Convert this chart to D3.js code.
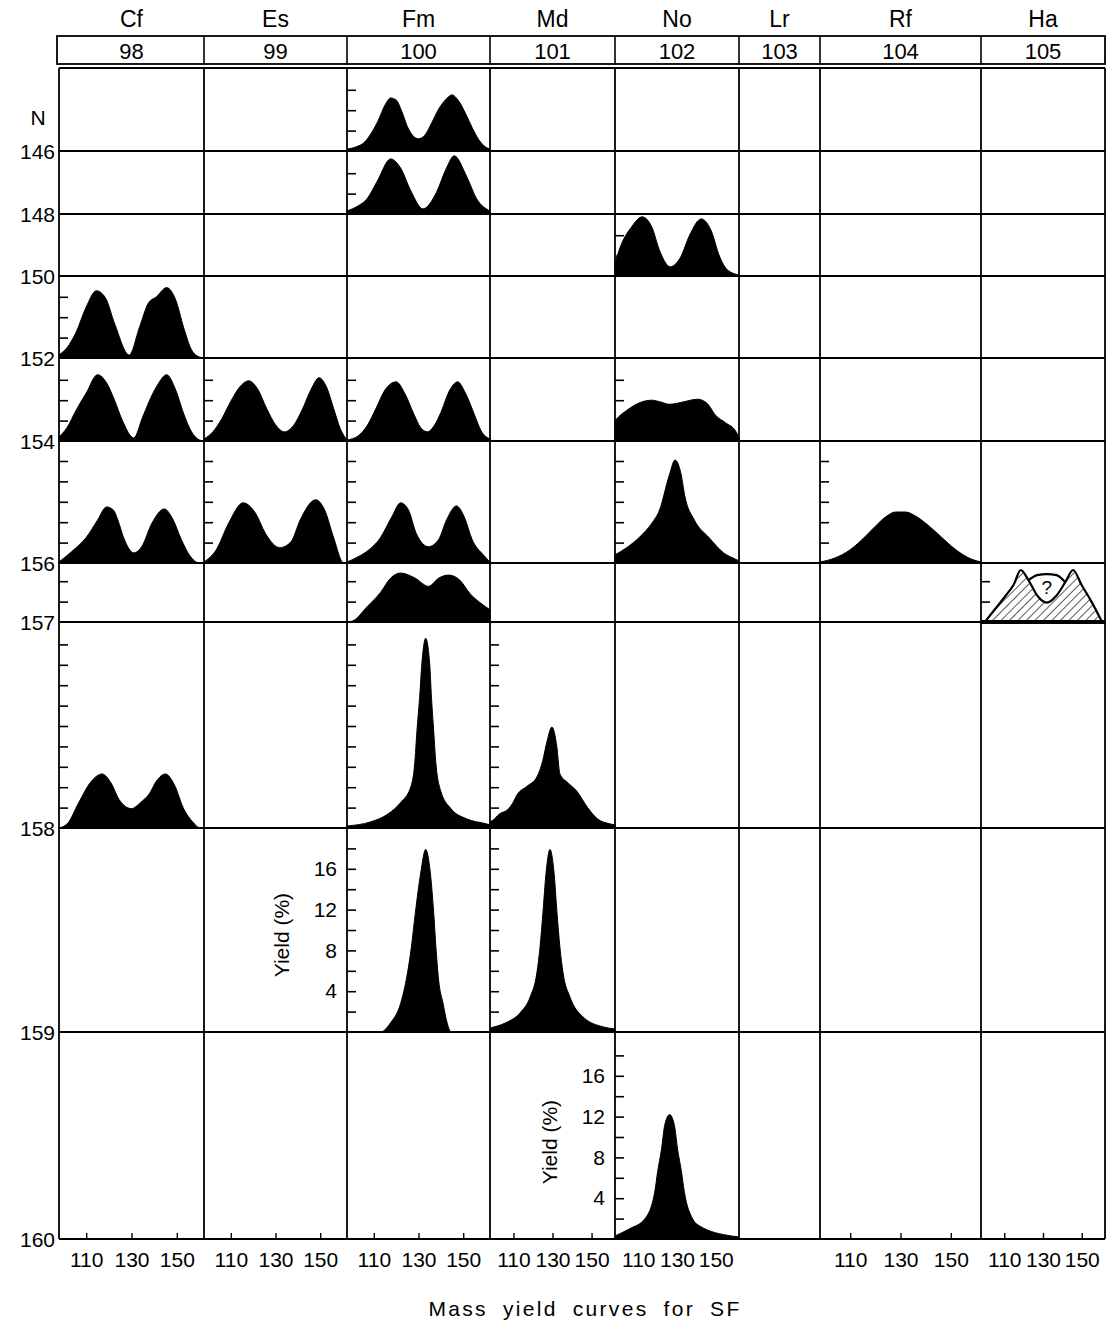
<!DOCTYPE html>
<html>
<head>
<meta charset="utf-8">
<script src="https://cdn.jsdelivr.net/npm/d3@7"></script>
<style>
  body { margin: 0; background: #fff; }
  text { font-family: "Liberation Sans", Arial, Helvetica, sans-serif; fill: #000; }
</style>
</head>
<body>
<svg id="chart" width="1109" height="1327"></svg>
<script>
// ---- data ----
const elements = ["Cf", "Es", "Fm", "Md", "No", "Lr", "Rf", "Ha"];
const atomicNumbers = ["98", "99", "100", "101", "102", "103", "104", "105"];
const neutronRows = [146, 148, 150, 152, 154, 156, 157, 158, 159, 160];
const massTicks = [110, 130, 150];
const massAxisCols = ["Cf", "Es", "Fm", "Md", "No", "Rf", "Ha"];
const yieldLabels = [4, 8, 12, 16];

// mass yield curves: [mass number, yield %]
const fm246 = [[98,0.2],[102,0.4],[106,0.9],[109,1.8],[112,3.0],[115,4.5],[117.5,5.2],[120,5.0],[122.5,3.9],[125,2.4],[127.5,1.5],[130,1.2],[133,1.6],[136,2.8],[139,4.1],[142,5.0],[145,5.5],[148,4.9],[151,3.7],[154,2.3],[157,1.1],[160,0.4],[162,0.2]];
const fm248 = [[98,0.3],[103,0.8],[107,1.5],[111.5,3.2],[117.5,5.4],[122,4.5],[126.5,2.3],[132,0.5],[138,2.1],[142.5,4.5],[146,5.7],[151.5,3.7],[156,1.5],[162,0.3]];
const no252 = [[98,1.3],[101.5,3.2],[106.5,4.8],[112,5.8],[117,4.8],[121,2.5],[126.5,0.9],[132,1.9],[136.5,4.0],[142.5,5.6],[147.5,4.5],[152,1.9],[156,0.6],[162,0.1]];
const cf250 = [[98,0.3],[101.5,1.0],[105.5,2.5],[110,5.0],[114.5,6.6],[118.5,5.9],[122.5,3.4],[129,0.3],[133.5,3.0],[137.5,5.4],[141,6.0],[145.5,6.9],[149.5,5.7],[153,3.0],[156.5,0.8],[160,0.1],[162,0]];
const cf252 = [[98,0.4],[101.5,1.3],[105.5,3.0],[110,4.7],[115,6.5],[119,5.7],[122.5,4.0],[126,2.0],[131,0.3],[135,2.4],[139.5,4.7],[141.5,5.5],[145.5,6.5],[149.5,5.0],[153,2.7],[156.5,0.9],[160,0.1],[162,0]];
const es253 = [[98,0.2],[102,0.9],[106,2.2],[110,3.9],[114,5.3],[118,5.9],[122,5.1],[126,3.2],[130,1.6],[134,0.9],[138,1.5],[142,3.1],[146,5.1],[149.5,6.2],[153,5.2],[156,3.2],[159,1.2],[162,0.1]];
const fm254 = [[98,0.1],[103,0.5],[107,1.5],[111,3.2],[115,5.0],[120,5.8],[124,4.6],[128,2.6],[131,1.3],[134,0.9],[137,1.5],[140,2.8],[144,5.0],[147.5,5.8],[151,4.7],[155,2.6],[158,1.0],[162,0.2]];
const no256 = [[98,2.0],[100,2.4],[104,3.0],[109,3.6],[113,3.9],[117,4.0],[122,3.8],[126,3.6],[132.5,3.8],[137,4.0],[140.5,4.1],[145.5,3.7],[150,2.5],[155,1.8],[160.5,0.9],[162,0.3]];
const cf254 = [[98,0.1],[103.5,1.1],[110,2.5],[115,4.2],[119,5.5],[122,5.2],[124,4.2],[126.5,2.5],[131,1.0],[134.5,1.6],[139,3.9],[144.5,5.3],[148,4.4],[152,2.3],[155.5,0.8],[160,0],[162,0]];
const es255 = [[98,0.1],[103.5,1.3],[109,3.9],[115.5,5.9],[121,4.9],[125.5,2.9],[132,1.5],[137,2.1],[141,4.2],[148,6.2],[152,5.2],[156,2.5],[160.5,0],[162,0]];
const fm256 = [[98,0.1],[102,0.5],[106,1.0],[113,2.5],[118,4.5],[122,5.9],[125.5,5.2],[129,2.9],[134.5,1.6],[139,2.3],[142.5,4.2],[147,5.6],[150.5,4.5],[154,2.3],[159,0.8],[162,0.1]];
const no258 = [[98,0.8],[104,1.5],[111,2.6],[117,3.9],[121,5.2],[126,8.6],[129,10.1],[132,8.8],[134,6.6],[139,4.2],[146.5,2.5],[154,1.0],[161,0.3],[162,0.2]];
const rf260 = [[98,0.1],[104,0.5],[110,1.3],[116,2.6],[120,3.6],[124,4.5],[128,5.0],[132,5.0],[136,4.6],[140,3.9],[146,2.6],[152,1.3],[158,0.4],[162,0.1]];
const fm257 = [[98,0],[100.5,0.1],[107,1.5],[113,2.9],[117.5,4.3],[122,4.8],[128.5,4.3],[134.5,3.5],[139,4.3],[143.5,4.6],[148.5,4.1],[153,2.8],[157.5,1.9],[162,1.2]];
const ha262 = [[100,0],[105,1.2],[110,2.4],[115,3.7],[118.5,5.1],[122.5,4.1],[127,2.6],[132,1.9],[137,2.6],[141.5,3.9],[145.5,5.1],[150,3.6],[155,2.0],[160.5,0]];
const ha262dome = [[122.5,4.1],[127,4.6],[132,4.7],[137,4.6],[141.5,3.9]];
const cf256 = [[98,0],[102,0.5],[106.5,2.4],[112,4.5],[117,5.3],[121,4.4],[124.5,2.8],[130,1.9],[134,2.5],[138,3.4],[141,4.6],[145,5.3],[149,4.2],[153,1.9],[157,0.6],[160.5,0],[162,0]];
const fm258 = [[98,0.2],[108.5,0.6],[116.5,1.4],[122,2.5],[126.5,4.0],[128.3,6.3],[129.3,9.5],[130.5,12.8],[131.5,16.1],[133.2,18.6],[135,16.1],[135.8,12.8],[136.8,9.5],[137.8,6.3],[140,3.6],[144.5,1.9],[151.5,0.9],[160.5,0.4],[162,0.3]];
const md259 = [[98,0.6],[99,0.7],[103,1.4],[107,1.8],[109.5,2.4],[112,3.3],[117,4.1],[122,5.0],[125,6.6],[127.2,8.5],[129.7,9.9],[132.2,8.0],[133.8,5.3],[137.5,4.5],[142.5,3.6],[148,2.0],[153,0.9],[159.5,0.4],[162,0.3]];
const fm259 = [[98,0],[113,0],[117.5,0.9],[122,2.8],[124.5,5.1],[126.8,8.3],[128.6,11.7],[131,15.6],[133.2,17.9],[135.3,15.6],[136.8,11.7],[137.8,8.3],[139,5.1],[141,2.8],[142.8,0.9],[144.6,0],[162,0]];
const md260 = [[98,0.4],[106,0.9],[113.5,1.9],[118.5,3.4],[122,5.8],[123.6,8.3],[125.1,11.7],[126.7,15.6],[128.7,17.9],[130.8,15.6],[132.3,11.7],[133.8,8.3],[135.4,5.8],[139,3.4],[145.5,1.5],[156,0.5],[162,0.3]];
const no262 = [[98,0.3],[105.5,1.0],[113.5,2.0],[118.5,4.6],[120,6.6],[122,8.8],[123.6,11.1],[126.2,12.2],[128.7,11.1],[130.3,8.8],[132.3,6.6],[133.8,4.6],[138,2.0],[141.5,1.3],[158,0.3],[162,0.2]];

// which cell (element, N) each curve sits in
const curves = [
  { el: "Fm", n: 146, pts: fm246 }, { el: "Fm", n: 148, pts: fm248 },
  { el: "No", n: 150, pts: no252 }, { el: "Cf", n: 152, pts: cf250 },
  { el: "Cf", n: 154, pts: cf252 }, { el: "Es", n: 154, pts: es253 },
  { el: "Fm", n: 154, pts: fm254 }, { el: "No", n: 154, pts: no256 },
  { el: "Cf", n: 156, pts: cf254 }, { el: "Es", n: 156, pts: es255 },
  { el: "Fm", n: 156, pts: fm256 }, { el: "No", n: 156, pts: no258 },
  { el: "Rf", n: 156, pts: rf260 }, { el: "Fm", n: 157, pts: fm257 },
  { el: "Cf", n: 158, pts: cf256 }, { el: "Fm", n: 158, pts: fm258 },
  { el: "Md", n: 158, pts: md259 }, { el: "Fm", n: 159, pts: fm259 },
  { el: "Md", n: 159, pts: md260 }, { el: "No", n: 160, pts: no262 },
];

// cells that carry small yield ticks: [element, N, highest tick %]
const tickCells = [
  ["Fm",146,6],["Fm",148,4],["No",150,4],["Cf",152,6],["Cf",154,6],["Es",154,6],
  ["Fm",154,6],["No",154,6],["Cf",156,10],["Es",156,10],["Fm",156,10],["No",156,10],
  ["Rf",156,10],["Cf",157,4],["Fm",157,4],["Ha",157,4],["Cf",158,18],["Fm",158,18],
  ["Md",158,18],["Fm",159,18],["Md",159,18],["No",160,18],
];
// cells whose yield axis is labelled
const labelledCells = [["Fm",159],["No",160]];

// ---- layout ----
const colEdges = [59, 204, 347, 490, 615, 739, 820, 981, 1105];
const rowEdges = [68, 151, 214, 276, 358, 441, 563, 622, 828, 1032, 1239];
const massDomain = [98, 162];
const pxPerPercent = 10.2;

const svg = d3.select("#chart");

const defs = svg.append("defs");
defs.append("pattern")
  .attr("id", "hatch")
  .attr("patternUnits", "userSpaceOnUse")
  .attr("width", 6).attr("height", 6)
  .attr("patternTransform", "rotate(45)")
  .append("line")
  .attr("x1", 0).attr("y1", 0).attr("x2", 0).attr("y2", 6)
  .attr("stroke", "#000").attr("stroke-width", 1.3);

function xScale(el) {
  const i = elements.indexOf(el);
  return d3.scaleLinear().domain(massDomain).range([colEdges[i], colEdges[i + 1]]);
}
function yScale(n) {
  const b = rowEdges[neutronRows.indexOf(n) + 1];
  return d3.scaleLinear().domain([0, 20]).range([b, b - 20 * pxPerPercent]);
}

// header: element symbols and boxed Z numbers
const header = svg.append("g");
header.selectAll("text.sym")
  .data(elements)
  .join("text")
  .attr("class", "sym")
  .attr("x", (d, i) => (colEdges[i] + colEdges[i + 1]) / 2)
  .attr("y", 27)
  .attr("text-anchor", "middle")
  .style("font-size", "23px")
  .text((d) => d);

header.append("rect")
  .attr("x", 57).attr("y", 36)
  .attr("width", 1105 - 57).attr("height", 28)
  .attr("fill", "none").attr("stroke", "#000").attr("stroke-width", 1.8);
header.selectAll("line")
  .data(colEdges.slice(1, -1))
  .join("line")
  .attr("x1", (d) => d).attr("x2", (d) => d)
  .attr("y1", 36).attr("y2", 64)
  .attr("stroke", "#000").attr("stroke-width", 1.6);
header.selectAll("text.z")
  .data(atomicNumbers)
  .join("text")
  .attr("class", "z")
  .attr("x", (d, i) => (colEdges[i] + colEdges[i + 1]) / 2)
  .attr("y", 59)
  .attr("text-anchor", "middle")
  .style("font-size", "22px")
  .text((d) => d);

// curves
const plots = svg.append("g");
curves.forEach((c) => {
  const x = xScale(c.el);
  const y = yScale(c.n);
  const area = d3.area()
    .x((d) => x(d[0]))
    .y0(y(0))
    .y1((d) => y(d[1]))
    .curve(d3.curveMonotoneX);
  plots.append("path")
    .datum(c.pts)
    .attr("d", area)
    .attr("fill", "#000")
    .attr("stroke", "#000")
    .attr("stroke-width", 1);
});

// the uncertain Ha (hatched) curve
{
  const x = xScale("Ha");
  const y = yScale(157);
  const area = d3.area()
    .x((d) => x(d[0]))
    .y0(y(0))
    .y1((d) => y(d[1]))
    .curve(d3.curveMonotoneX);
  plots.append("path")
    .datum(ha262)
    .attr("d", area)
    .attr("fill", "url(#hatch)")
    .attr("stroke", "#000")
    .attr("stroke-width", 2.2);
  const dome = d3.line()
    .x((d) => x(d[0]))
    .y((d) => y(d[1]))
    .curve(d3.curveMonotoneX);
  plots.append("path")
    .datum(ha262dome)
    .attr("d", dome)
    .attr("fill", "none")
    .attr("stroke", "#000")
    .attr("stroke-width", 2.2);
  plots.append("line")
    .attr("x1", colEdges[7]).attr("x2", colEdges[8])
    .attr("y1", y(0)).attr("y2", y(0))
    .attr("stroke", "#000").attr("stroke-width", 4);
  plots.append("text")
    .attr("x", x(132))
    .attr("y", y(2.7))
    .attr("text-anchor", "middle")
    .style("font-size", "19px")
    .text("?");
}

// grid
const grid = svg.append("g").attr("stroke", "#000");
grid.selectAll("line.v")
  .data(colEdges)
  .join("line")
  .attr("class", "v")
  .attr("x1", (d) => d).attr("x2", (d) => d)
  .attr("y1", rowEdges[0]).attr("y2", rowEdges[rowEdges.length - 1])
  .attr("stroke-width", 1.8);
grid.selectAll("line.h")
  .data(rowEdges)
  .join("line")
  .attr("class", "h")
  .attr("x1", colEdges[0]).attr("x2", colEdges[colEdges.length - 1])
  .attr("y1", (d) => d).attr("y2", (d) => d)
  .attr("stroke-width", 2);

// small yield ticks on the left of cells
tickCells.forEach(([el, n, top]) => {
  const y = yScale(n);
  const vals = d3.range(2, top + 1, 2);
  svg.append("g")
    .attr("transform", `translate(${colEdges[elements.indexOf(el)]},0)`)
    .call(d3.axisLeft(y).tickValues(vals).tickSizeInner(-9).tickSizeOuter(0).tickFormat(""))
    .call((g) => g.select(".domain").remove())
    .selectAll("line").attr("stroke-width", 1.6);
});

// labelled yield axes
labelledCells.forEach(([el, n]) => {
  const y = yScale(n);
  const x0 = colEdges[elements.indexOf(el)];
  const g = svg.append("g")
    .attr("transform", `translate(${x0},0)`)
    .call(d3.axisLeft(y).tickValues(yieldLabels).tickSize(0).tickPadding(10))
    .call((g) => g.select(".domain").remove());
  g.selectAll("text").style("font-size", "21px").attr("font-family", null);
  svg.append("text")
    .attr("transform", `translate(${x0 - 58},${y(9.5)}) rotate(-90)`)
    .attr("text-anchor", "middle")
    .style("font-size", "21px")
    .text("Yield (%)");
});

// neutron number labels
const rowLabels = svg.append("g");
rowLabels.append("text")
  .attr("x", 38).attr("y", 125)
  .attr("text-anchor", "middle")
  .style("font-size", "21px")
  .text("N");
rowLabels.selectAll("text.n")
  .data(neutronRows)
  .join("text")
  .attr("class", "n")
  .attr("x", 55)
  .attr("y", (d, i) => rowEdges[i + 1] + 8)
  .attr("text-anchor", "end")
  .style("font-size", "21px")
  .text((d) => d);

// mass axes under the bottom row
massAxisCols.forEach((el) => {
  const x = xScale(el);
  const g = svg.append("g")
    .attr("transform", `translate(0,${rowEdges[rowEdges.length - 1]})`)
    .call(d3.axisBottom(x).tickValues(massTicks).tickSizeInner(-6).tickSizeOuter(0).tickPadding(13))
    .call((g) => g.select(".domain").remove());
  g.selectAll("text").style("font-size", "21px").attr("font-family", null);
  g.selectAll("line").attr("stroke-width", 1.4);
});

svg.append("text")
  .attr("x", 585).attr("y", 1316)
  .attr("text-anchor", "middle")
  .style("font-size", "21px")
  .style("letter-spacing", "2.3px")
  .style("word-spacing", "7px")
  .text("Mass yield curves for SF");
</script>
</body>
</html>
